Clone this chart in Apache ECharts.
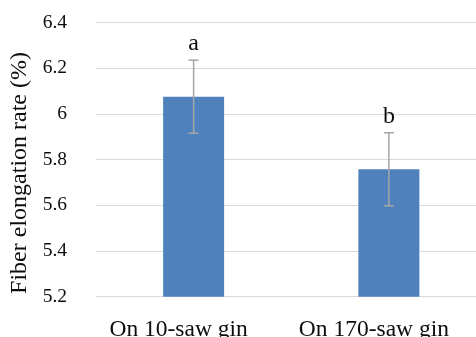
<!DOCTYPE html>
<html>
<head>
<meta charset="utf-8">
<script src="https://cdn.jsdelivr.net/npm/echarts@6/dist/echarts.min.js"></script>
<style>
html,body{margin:0;padding:0;background:#fff;}
#chart{width:476px;height:337px;}
</style>
</head>
<body>
<div id="chart"></div>
<script>
var categories = ['On 10-saw gin', 'On 170-saw gin'];
var means = [6.076, 5.758];
var errors = [0.16, 0.16];
var letters = ['a', 'b'];
var yTicks = { min: 5.2, max: 6.4, interval: 0.2 };

var FONT = 'Liberation Serif';
var chart = echarts.init(document.getElementById('chart'), null, { renderer: 'canvas' });

var errData = means.map(function (m, i) { return [i, m - errors[i], m + errors[i], letters[i]]; });

chart.setOption({
  animation: false,
  textStyle: { fontFamily: FONT },
  grid: { left: 96, right: -10.5, top: 22.7, bottom: 40.3, outerBoundsMode: 'none', containLabel: false },
  xAxis: {
    type: 'category',
    data: categories,
    axisTick: { show: false },
    axisLine: { show: true, lineStyle: { color: '#d9d9d9', width: 1 } },
    axisLabel: { interval: 0, hideOverlap: false, margin: 21, fontFamily: FONT, fontSize: 23.5, color: '#0d0d0d', padding: [0, 30, 0, 0] }
  },
  yAxis: {
    type: 'value',
    min: yTicks.min, max: yTicks.max, interval: yTicks.interval,
    axisLine: { show: false },
    axisTick: { show: false },
    splitLine: { lineStyle: { color: '#d9d9d9', width: 1 } },
    axisLabel: {
      margin: 29, fontFamily: FONT, fontSize: 19, color: '#0d0d0d',
      formatter: function (v) { return '{t|' + (+v.toFixed(1)) + '}'; },
      rich: { t: { fontFamily: FONT, fontSize: 19.5, color: '#0d0d0d' } }
    }
  },
  graphic: [{
    type: 'text',
    left: 8, top: 52,
    rotation: Math.PI / 2,
    style: { text: 'Fiber elongation rate (%)', font: '24px "Liberation Serif"', fill: '#0d0d0d' },
    z: 10
  }],
  series: [{
    type: 'bar',
    data: means,
    barWidth: 61,
    itemStyle: { color: '#4f81bd' },
    z: 2
  }, {
    type: 'custom',
    data: errData,
    z: 3,
    renderItem: function (params, api) {
      var x = api.value(0);
      var lo = api.coord([x, api.value(1)]);
      var hi = api.coord([x, api.value(2)]);
      var cap = 5;
      var style = { stroke: '#a6a6a6', lineWidth: 1.5 };
      return {
        type: 'group',
        children: [
          { type: 'line', shape: { x1: hi[0], y1: hi[1], x2: lo[0], y2: lo[1] }, style: style },
          { type: 'line', shape: { x1: hi[0] - cap, y1: hi[1], x2: hi[0] + cap, y2: hi[1] }, style: style },
          { type: 'line', shape: { x1: lo[0] - cap, y1: lo[1], x2: lo[0] + cap, y2: lo[1] }, style: style },
          { type: 'text', style: { text: api.value(3), x: hi[0], y: hi[1] - 4, textAlign: 'center', textVerticalAlign: 'bottom', font: '24px "Liberation Serif"', fill: '#0d0d0d' } }
        ]
      };
    }
  }]
});
</script>
</body>
</html>
